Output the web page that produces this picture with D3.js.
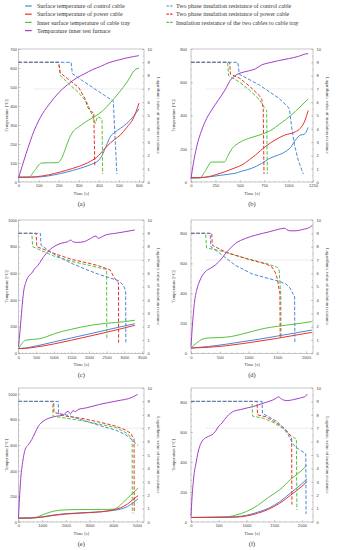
<!DOCTYPE html>
<meta charset="utf-8">
<style>
  body { margin: 0; background: #fff; }
  svg { font-family: "Liberation Serif", "DejaVu Serif", serif; }
  .frame { fill: none; stroke: #a0a0a0; stroke-width: 0.6px; }
  .axis line { stroke: #a0a0a0; stroke-width: 0.5px; }
  .axis text { fill: #444; font-size: 4.1px; }
  .title { fill: #444; font-size: 4.6px; }
  .pid { fill: #333; font-size: 6.5px; }
  .legend text { fill: #333; font-size: 6px; }
  .line { fill: none; stroke-width: 1px; }
  .dash { stroke-dasharray: 3.5,1.8; }
  .ref { stroke: #e0e0e0; stroke-width: 0.6px; }
</style>
<body>
<script src="https://d3js.org/d3.v7.min.js"></script>
<script>

  // (a) [time s, temperature C] and [time s, log resistance]
  var aControl = [[0,25],[60,25],[120,28],[180,38],[240,52],[300,70],[360,92],[400,115],[416,140],[437,190],[457,238],[480,262],[507,282],[539,308],[572,345],[600,385]];
  var aPower = [[0,25],[60,26],[120,32],[180,45],[240,62],[300,82],[360,110],[400,140],[416,160],[457,205],[480,225],[507,247],[539,287],[572,335],[600,415]];
  var aTray = [[0,25],[50,25],[80,60],[115,100],[195,102],[215,125],[235,180],[255,235],[275,270],[300,290],[340,320],[380,345],[420,375],[460,420],[500,470],[540,525],[580,590],[600,600]];
  var aFurnace = [[0,20],[38,150],[79,273],[120,360],[161,420],[200,470],[243,511],[290,548],[326,568],[370,592],[408,608],[450,628],[490,640],[530,651],[572,660],[600,665]];
  var aControlIR = [[0,9],[262,9],[268,8.15],[320,7.6],[380,7.0],[430,6.5],[465,6.15],[472,6.1],[490,0.6]];
  var aPowerIR = [[0,9],[200,9],[208,8.2],[250,7.7],[300,7.1],[330,6.3],[345,5.6],[360,5.3],[375,5.2],[380,1.2]];
  var aTrayIR = [[0,9],[200,9],[208,8.0],[250,7.4],[300,6.7],[340,6.0],[365,5.1],[383,4.4],[393,4.9],[410,4.8],[416,4.7],[419,0.6]];

  // (b)
  var bControl = [[0,25],[100,26],[200,32],[300,40],[400,48],[450,52],[520,65],[620,82],[720,110],[800,140],[860,155],[960,180],[1020,208],[1070,252],[1120,282],[1150,285],[1170,292],[1200,328]];
  var bPower = [[0,25],[100,27],[180,32],[260,45],[350,62],[450,85],[520,102],[600,135],[660,162],[760,212],[860,252],[960,282],[1070,302],[1120,323],[1170,373],[1200,430]];
  var bTray = [[0,25],[90,25],[150,70],[210,120],[340,120],[380,160],[420,200],[490,235],[590,262],[700,282],[780,300],[830,315],[900,345],[970,375],[1070,425],[1200,500]];
  var bFurnace = [[0,20],[24,111],[58,212],[110,312],[161,383],[212,433],[281,494],[349,554],[401,610],[452,640],[503,655],[589,668],[658,680],[726,705],[795,716],[897,730],[1000,742],[1103,756],[1171,770],[1200,772]];
  var bControlIR = [[0,9],[480,9],[495,8.1],[700,7.3],[900,6.3],[1000,5.6],[1010,5.4],[1030,4.2],[1060,2.8],[1100,1.6],[1150,0.6]];
  var bPowerIR = [[0,9],[395,9],[405,8.1],[500,7.8],[600,7.2],[700,6.5],[726,6.2],[740,5.5],[748,0.6]];
  var bTrayIR = [[0,9],[375,9],[385,8.0],[500,7.5],[600,6.9],[700,6.2],[760,5.5],[775,5.4],[782,0.6]];

  // (c)
  var cControl = [[0,35],[200,40],[500,55],[1000,85],[1500,115],[2000,145],[2500,175],[3000,205],[3300,222]];
  var cPower = [[0,35],[200,37],[500,47],[1000,70],[1500,98],[2000,128],[2500,158],[3000,190],[3300,210]];
  var cTray = [[0,35],[100,75],[200,98],[400,104],[600,110],[800,125],[1000,145],[1250,165],[1500,180],[1750,195],[2000,208],[2500,225],[3000,237],[3300,248]];
  var cFurnace = [[0,50],[46,175],[93,325],[139,450],[214,537],[279,575],[372,600],[465,637],[558,662],[650,700],[790,750],[976,795],[1208,825],[1394,837],[1487,850],[1552,835],[1673,832],[1859,837],[1952,848],[2050,862],[2138,875],[2202,880],[2258,862],[2320,868],[2463,887],[2742,900],[3020,912],[3300,925]];
  var cControlIR = [[0,9],[620,9],[640,8.1],[1000,7.45],[1500,6.75],[2000,6.2],[2272,5.93],[2836,5.45],[2978,5.1],[3020,4.8],[3040,4.6],[3045,0.8]];
  var cPowerIR = [[0,9],[500,9],[520,8.0],[1000,7.5],[1500,7.05],[2000,6.75],[2272,6.57],[2500,6.35],[2600,6.25],[2700,5.75],[2790,5.4],[2836,5.3],[2840,0.8]];
  var cTrayIR = [[0,9],[380,9],[400,8.0],[1000,7.3],[1500,6.9],[2000,6.6],[2400,6.35],[2500,6.3],[2505,1.0]];

  // (d)
  var dControl = [[0,35],[300,45],[600,60],[900,78],[1200,95],[1500,115],[1800,135],[2100,155]];
  var dPower = [[0,35],[300,40],[600,50],[900,65],[1200,82],[1500,100],[1800,120],[2100,140]];
  var dTray = [[0,35],[100,70],[200,95],[300,102],[500,105],[700,112],[900,130],[1100,150],[1300,168],[1500,180],[1700,190],[1900,200],[2100,212]];
  var dFurnace = [[0,44],[23,178],[58,333],[99,422],[158,489],[246,544],[333,567],[421,589],[509,622],[626,678],[772,733],[947,767],[1123,789],[1357,811],[1532,829],[1620,835],[1708,818],[1825,818],[1942,827],[2058,840],[2110,855]];
  var dControlIR = [[0,9],[333,9],[345,8.0],[500,7.5],[772,6.6],[1064,5.95],[1357,5.6],[1532,5.4],[1650,5.2],[1720,4.9],[1780,4.4],[1800,4.3],[1805,0.8]];
  var dPowerIR = [[0,9],[360,9],[370,8.1],[600,7.6],[1000,7.05],[1300,6.7],[1400,6.5],[1460,6.1],[1500,5.6],[1530,4.8],[1545,4.5],[1550,1.1]];
  var dTrayIR = [[0,9],[255,9],[270,7.9],[500,7.7],[800,7.3],[1064,7.0],[1300,6.75],[1500,6.45],[1530,6.35],[1550,5.0],[1560,4.5],[1565,1.1]];

  // (e)
  var eControl = [[0,30],[500,31],[1000,40],[1500,55],[2000,65],[2500,70],[3000,75],[3500,80],[4000,90],[4300,100],[4600,120],[4800,145],[5050,180]];
  var ePower = [[0,30],[500,31],[1000,38],[1500,52],[2000,62],[2500,68],[3000,73],[3500,80],[4000,95],[4300,110],[4600,140],[4800,170],[5050,205]];
  var eTray = [[0,30],[500,32],[800,40],[1000,55],[1500,85],[2000,95],[2500,97],[3000,97],[3500,97],[4000,100],[4200,115],[4400,150],[4600,185],[4800,220],[5050,265]];
  var eFurnace = [[0,31],[42,187],[98,344],[182,474],[279,565],[419,604],[559,643],[698,695],[838,747],[1047,786],[1327,812],[1606,825],[1885,833],[2095,864],[2193,843],[2304,869],[2400,860],[2514,877],[2863,890],[3422,917],[4120,943],[4818,974],[5028,995]];
  var eControlIR = [[0,9],[1680,9],[1690,8.1],[2000,8.0],[2723,7.6],[3422,7.2],[4120,6.85],[4539,6.5],[4749,6.2],[4958,5.85],[5050,5.7]];
  var ePowerIR = [[0,9],[1490,9],[1495,8.2],[2000,7.9],[2723,7.72],[3422,7.45],[4120,7.15],[4539,6.85],[4749,6.6],[4818,6.35],[4880,6.2],[4886,0.65]];
  var eTrayIR = [[0,9],[1450,9],[1455,7.9],[2000,7.75],[2723,7.55],[3422,7.3],[4120,7.05],[4500,6.7],[4633,6.55],[4775,6.2],[4800,6.1],[4805,0.65]];

  // (f)
  var fControl = [[0,30],[800,35],[1000,45],[1200,65],[1400,92],[1600,135],[1800,195],[2000,255],[2090,287]];
  var fPower = [[0,30],[800,32],[1000,40],[1200,58],[1400,85],[1600,125],[1800,180],[2000,238],[2090,268]];
  var fTray = [[0,30],[600,32],[800,45],[1000,70],[1200,110],[1400,165],[1600,215],[1800,285],[2000,345],[2090,378]];
  var fFurnace = [[0,38],[18,160],[48,293],[96,404],[139,482],[199,538],[259,560],[319,571],[380,582],[440,604],[500,638],[560,660],[651,704],[771,738],[892,749],[1012,760],[1133,771],[1313,793],[1494,816],[1584,833],[1645,816],[1735,809],[1855,816],[1976,827],[2066,838],[2096,853]];
  var fControlIR = [[0,9],[1280,9],[1290,8.1],[1400,7.85],[1550,7.5],[1700,6.9],[1780,6.3],[1850,5.75],[1950,5.4],[2050,5.15],[2070,5.1],[2075,0.6]];
  var fPowerIR = [[0,9],[1190,9],[1200,8.0],[1350,7.85],[1500,7.5],[1650,7.1],[1750,6.7],[1800,6.4],[1815,6.2],[1820,1.3]];
  var fTrayIR = [[0,9],[1100,9],[1110,7.9],[1300,7.75],[1500,7.4],[1650,7.0],[1750,6.6],[1850,6.3],[1900,6.2],[1910,0.9]];

  var legendTemp = ["Surface temperature of control cable", "Surface temperature of power cable",
    "Inner surface temperature of cable tray", "Temparature inner test furnace"];
  var legendIR = ["Two phase insulation resistance of control cable", "Two phase insulation resistance of power cable",
    "Insulation resistance of the two cables to cable tray"];
  var panelIds = ["(a)", "(b)", "(c)", "(d)", "(e)", "(f)"];
  var xMax = [625, 1250, 3560, 2120, 5300, 2200];
  var xStep = [100, 250, 500, 500, 1000, 500];
  var tempMax = [700, 800, 1000, 890, 1045, 893];
  var tempStep = [100, 200, 200, 200, 200, 200];

  var colorTemp = ["#4a87d6", "#e8322c", "#55c23a", "#a33ec9"];
  var colorIR = ["#4a87d6", "#e8322c", "#55c23a"];

  var temps = [[aControl, aPower, aTray, aFurnace], [bControl, bPower, bTray, bFurnace],
    [cControl, cPower, cTray, cFurnace], [dControl, dPower, dTray, dFurnace],
    [eControl, ePower, eTray, eFurnace], [fControl, fPower, fTray, fFurnace]];
  var irs = [[aControlIR, aPowerIR, aTrayIR], [bControlIR, bPowerIR, bTrayIR],
    [cControlIR, cPowerIR, cTrayIR], [dControlIR, dPowerIR, dTrayIR],
    [eControlIR, ePowerIR, eTrayIR], [fControlIR, fPowerIR, fTrayIR]];

  // Panel grid.
  var cols = [{x0: 18.5, x1: 144, lab: 1.5, title: 12.5}, {x0: 191, x1: 313, lab: 4, title: 17.5}];
  var rows = [{y0: 49, y1: 182}, {y0: 220, y1: 353.3}, {y0: 388, y1: 522}];
  var fmt = d3.format("d");

  var svg = d3.select("body").append("svg")
    .attr("width", 338)
    .attr("height", 550);

  // Legend.
  var legend = svg.append("g").attr("class", "legend");
  legendTemp.forEach(function(name, i) {
    var y = 6 + i * 8.2;
    legend.append("line").attr("x1", 25).attr("x2", 31.7).attr("y1", y).attr("y2", y)
      .attr("stroke", colorTemp[i]).attr("stroke-width", 1.2);
    legend.append("text").attr("x", 37).attr("y", y).attr("dy", "0.35em").text(name);
  });
  legendIR.forEach(function(name, i) {
    var y = 6 + i * 8.2;
    legend.append("line").attr("x1", 166.5).attr("x2", 173.5).attr("y1", y).attr("y2", y)
      .attr("stroke", colorIR[i]).attr("stroke-width", 1.2).attr("stroke-dasharray", "2.4,1.2");
    legend.append("text").attr("x", 176).attr("y", y).attr("dy", "0.35em").text(name);
  });

  panelIds.forEach(function(id, i) {
    var c = cols[i % 2], r = rows[Math.floor(i / 2)];
    var w = c.x1 - c.x0, h = r.y1 - r.y0;
    var g = svg.append("g").attr("transform", "translate(" + c.x0 + "," + r.y0 + ")");

    var x = d3.scaleLinear().domain([0, xMax[i]]).range([0, w]);
    var yT = d3.scaleLinear().domain([0, tempMax[i]]).range([h, 0]);
    var yR = d3.scaleLinear().domain([0, 10]).range([h, 0]);

    var xTicks = d3.range(0, xMax[i] + 1, xStep[i]);
    var tTicks = d3.range(0, tempMax[i] + 1, tempStep[i]);
    var xMinor = d3.range(0, xMax[i] + 1, xStep[i] / 5);
    var tMinor = d3.range(0, tempMax[i] + 1, tempStep[i] / 5);

    // Reference line at 7.
    g.append("line").attr("class", "ref")
      .attr("x1", w * 0.12).attr("x2", w)
      .attr("y1", yR(7)).attr("y2", yR(7));

    // Minor ticks.
    g.append("g").attr("class", "axis").attr("transform", "translate(0," + h + ")")
      .call(d3.axisBottom(x).tickValues(xMinor).tickSize(-1).tickFormat(""))
      .select(".domain").remove();
    g.append("g").attr("class", "axis")
      .call(d3.axisLeft(yT).tickValues(tMinor).tickSize(-1).tickFormat(""))
      .select(".domain").remove();
    g.append("g").attr("class", "axis").attr("transform", "translate(" + w + ",0)")
      .call(d3.axisRight(yR).tickValues(d3.range(0, 10.01, 0.5)).tickSize(-1).tickFormat(""))
      .select(".domain").remove();

    // Major ticks and labels.
    g.append("g").attr("class", "axis").attr("transform", "translate(0," + h + ")")
      .call(d3.axisBottom(x).tickValues(xTicks).tickFormat(fmt).tickSizeInner(-2).tickSizeOuter(0).tickPadding(2.4))
      .select(".domain").remove();
    g.append("g").attr("class", "axis")
      .call(d3.axisLeft(yT).tickValues(tTicks).tickFormat(fmt).tickSizeInner(-2).tickSizeOuter(0).tickPadding(c.lab))
      .select(".domain").remove();
    g.append("g").attr("class", "axis").attr("transform", "translate(" + w + ",0)")
      .call(d3.axisRight(yR).tickValues(d3.range(0, 11)).tickFormat(fmt).tickSizeInner(-2).tickSizeOuter(0).tickPadding(3.4))
      .select(".domain").remove();

    g.append("rect").attr("class", "frame").attr("width", w).attr("height", h);

    // Temperature curves.
    var lineT = d3.line()
      .x(function(d) { return x(d[0]); })
      .y(function(d) { return yT(d[1]); })
      .curve(d3.curveMonotoneX);
    [2, 0, 1, 3].forEach(function(k) {
      g.append("path").attr("class", "line")
        .attr("stroke", colorTemp[k])
        .attr("d", lineT(temps[i][k]));
    });

    // Insulation resistance curves.
    var lineR = d3.line()
      .x(function(d) { return x(d[0]); })
      .y(function(d) { return yR(d[1]); });
    [2, 1, 0].forEach(function(k) {
      g.append("path").attr("class", "line dash")
        .attr("stroke", colorIR[k])
        .attr("d", lineR(irs[i][k]));
    });

    // Axis titles.
    g.append("text").attr("class", "title")
      .attr("transform", "translate(" + (-c.title) + "," + (h / 2) + ") rotate(-90)")
      .attr("text-anchor", "middle").attr("dy", "0.35em")
      .text("Temperature [°C]");
    g.append("text").attr("class", "title")
      .attr("transform", "translate(" + (w + 15) + "," + (h / 2) + ") rotate(90)")
      .attr("text-anchor", "middle").attr("dy", "0.35em")
      .text("Logarithmic value of insulation resistance");
    g.append("text").attr("class", "title")
      .attr("x", w / 2).attr("y", h + 11.5).attr("dy", "0.35em")
      .attr("text-anchor", "middle")
      .text("Time [s]");
    g.append("text").attr("class", "pid")
      .attr("x", w / 2).attr("y", h + 21.5).attr("dy", "0.35em")
      .attr("text-anchor", "middle")
      .text(id);
  });

</script>
